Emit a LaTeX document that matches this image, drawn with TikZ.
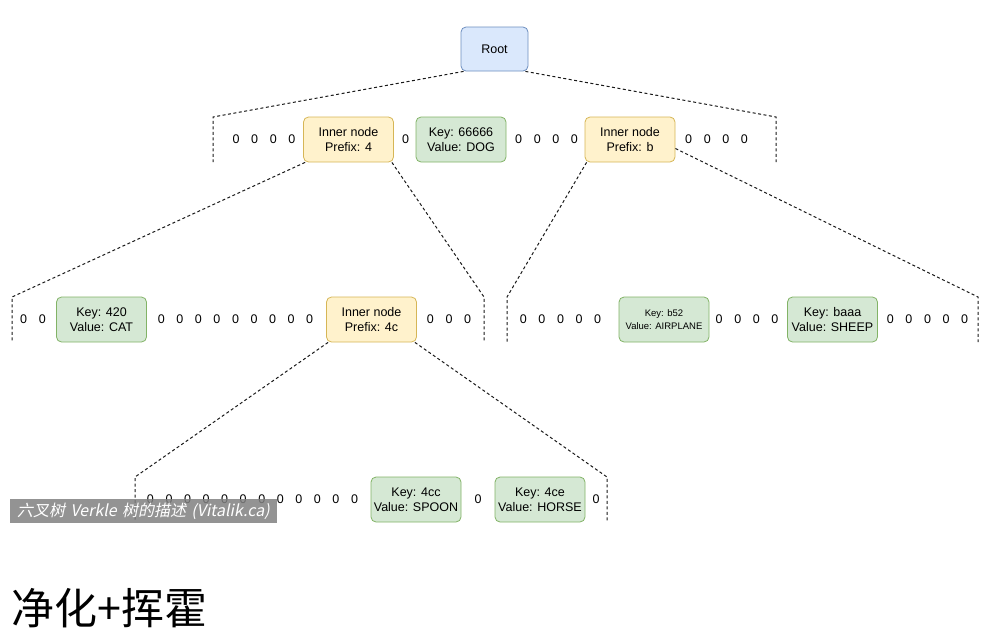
\documentclass[tikz,border=0pt]{standalone}
\usepackage{fontspec}
\setmainfont{Liberation Sans}
\newfontfamily\cjkbig{Noto Sans CJK SC}
\newfontfamily\capfont{Noto Sans CJK SC}[FakeSlant=0.2]
\definecolor{blueF}{HTML}{DAE8FC}\definecolor{blueD}{HTML}{6C8EBF}
\definecolor{yelF}{HTML}{FFF2CC}\definecolor{yelD}{HTML}{D6B656}
\definecolor{grnF}{HTML}{D5E8D4}\definecolor{grnD}{HTML}{82B366}
\newcommand\zeros[1]{\foreach \i in {1,...,#1}{\ifnum\i>1\hspace{11.6pt}\fi 0}}
\tikzset{
  box/.style={rectangle, rounded corners=5pt, line width=0.8pt, minimum width=90pt, minimum height=45pt, align=center, inner sep=1pt, font=\fontsize{12.5}{15}\selectfont},
  rootbox/.style={box, fill=blueF, draw=blueD, minimum width=67pt, minimum height=44pt},
  inner/.style={box, fill=yelF, draw=yelD},
  leaf/.style={box, fill=grnF, draw=grnD},
  zr/.style={inner sep=0pt, font=\fontsize{12.5}{15}\selectfont},
  link/.style={draw=black!90, line width=1pt, dash pattern=on 3pt off 2.5pt},
}
\begin{document}
\begin{tikzpicture}[x=1pt,y=-1pt]
\useasboundingbox (0,0) rectangle (993,637);
% nodes
\node[rootbox] (root) at (494.5,49) {Root};
\node[inner] (p4) at (348.5,139.5) {Inner node\\Prefix: 4};
\node[leaf] (dog) at (461,139.5) {Key: 66666\\Value: DOG};
\node[inner] (pb) at (630,139.5) {Inner node\\Prefix: b};
\node[leaf] (cat) at (101.5,319.5) {Key: 420\\Value: CAT};
\node[inner] (p4c) at (371.5,319.5) {Inner node\\Prefix: 4c};
\node[leaf, font=\fontsize{9.5}{13}\selectfont] (air) at (664,319.5) {Key: b52\\Value: AIRPLANE};
\node[leaf] (sheep) at (832.5,319.5) {Key: baaa\\Value: SHEEP};
\node[leaf] (spoon) at (416,499.5) {Key: 4cc\\Value: SPOON};
\node[leaf] (horse) at (540,499.5) {Key: 4ce\\Value: HORSE};
% zero rows
\node[zr] (z1) at (264,139.5) {\zeros{4}};
\node[zr] (z2) at (405.5,139.5) {0};
\node[zr] (z3) at (546.5,139.5) {\zeros{4}};
\node[zr] (z4) at (716.5,139.5) {\zeros{4}};
\node[zr] (z5) at (33,319.5) {\zeros{2}};
\node[zr] (z6) at (235.5,319.5) {\zeros{9}};
\node[zr] (z7) at (449,319.5) {\zeros{3}};
\node[zr] (z8) at (560.5,319.5) {\zeros{5}};
\node[zr] (z9) at (747,319.5) {\zeros{4}};
\node[zr] (z10) at (927.5,319.5) {\zeros{5}};
\node[zr] (z11) at (252.5,499.5) {\zeros{12}};
\node[zr] (z12) at (478,499.5) {0};
\node[zr] (z13) at (596,499.5) {0};
% bracket corners
\coordinate (a1) at (213,117); \coordinate (a1b) at (213,162);
\coordinate (a2) at (776,117); \coordinate (a2b) at (776,162);
\coordinate (b1) at (12,297);  \coordinate (b1b) at (12,342);
\coordinate (b2) at (484,297); \coordinate (b2b) at (484,342);
\coordinate (b3) at (507,297); \coordinate (b3b) at (507,342);
\coordinate (b4) at (978,297); \coordinate (b4b) at (978,342);
\coordinate (c1) at (135,477); \coordinate (c1b) at (135,522);
\coordinate (c2) at (607,477); \coordinate (c2b) at (607,522);
% connectors
\draw[link] ([xshift=3pt]root.south west) -- (a1) -- (a1b);
\draw[link] ([xshift=-3pt]root.south east) -- (a2) -- (a2b);
\draw[link] ([xshift=2pt]p4.south west) -- (b1) -- (b1b);
\draw[link] ([xshift=-2pt]p4.south east) -- (b2) -- (b2b);
\draw[link] ([xshift=2pt]pb.south west) -- (b3) -- (b3b);
\draw[link] ([yshift=-9pt]pb.east) -- (b4) -- (b4b);
\draw[link] ([xshift=2pt]p4c.south west) -- (c1) -- (c1b);
\draw[link] ([xshift=-2pt]p4c.south east) -- (c2) -- (c2b);
% caption overlay
\node[fill=black!50, fill opacity=0.85, text opacity=1, text=white, text width=253pt, align=left, inner xsep=7pt, minimum height=24pt, inner ysep=0pt, anchor=north west, font=\capfont\fontsize{16}{18}\selectfont] (cap) at (10,499) {六叉树 Verkle 树的描述 (Vitalik.ca)};
% bottom title
\node[anchor=west, inner sep=0pt, font=\cjkbig\fontsize{43}{50}\selectfont] (title) at (11,608) {净化+挥霍};
\end{tikzpicture}
\end{document}
